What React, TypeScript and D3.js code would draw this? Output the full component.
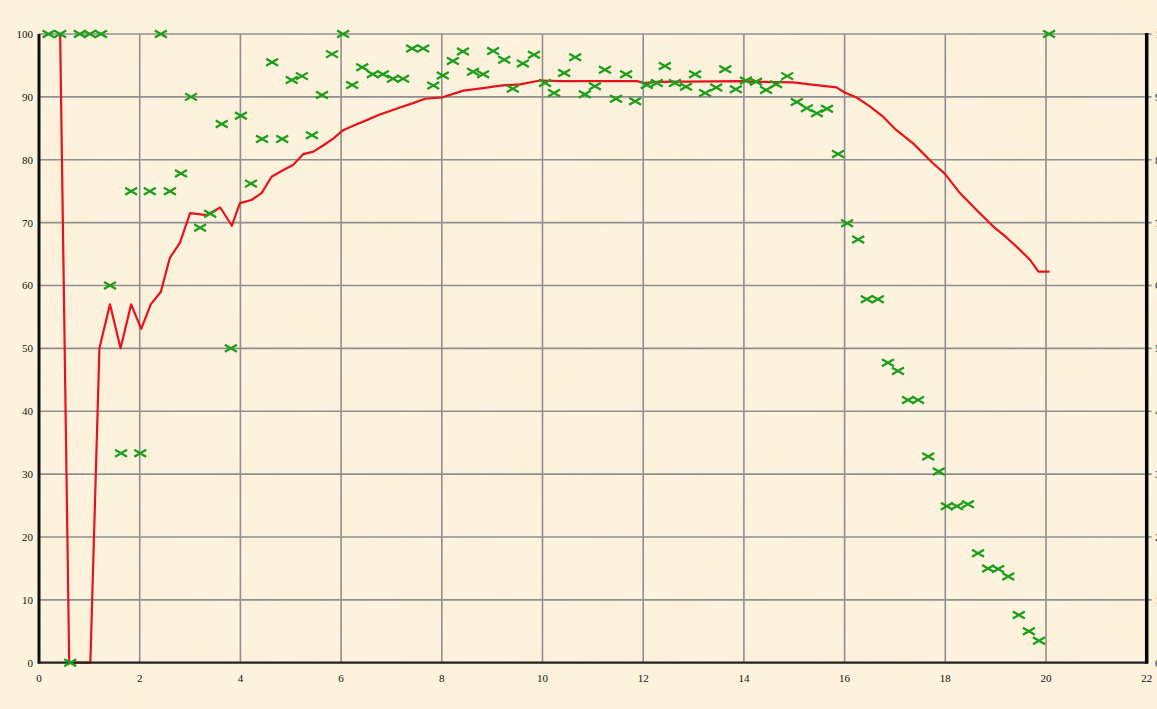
import React, { useRef, useEffect } from 'react';
import * as d3 from 'd3';

// measured points (green crosses)
const pointX = [
  0.19, 0.42, 0.62, 0.81, 1.01, 1.23, 1.41, 1.63, 1.83, 2.01,
  2.2, 2.42, 2.6, 2.82, 3.02, 3.2, 3.4, 3.63, 3.81, 4.01,
  4.21, 4.43, 4.63, 4.83, 5.02, 5.22, 5.42, 5.62, 5.82, 6.04,
  6.22, 6.42, 6.63, 6.83, 7.03, 7.23, 7.41, 7.63, 7.83, 8.02,
  8.22, 8.42, 8.62, 8.82, 9.02, 9.24, 9.41, 9.61, 9.83, 10.05,
  10.23, 10.43, 10.65, 10.84, 11.04, 11.24, 11.46, 11.66, 11.84, 12.07,
  12.27, 12.43, 12.63, 12.85, 13.03, 13.23, 13.45, 13.63, 13.84, 14.04,
  14.24, 14.44, 14.64, 14.86, 15.05, 15.25, 15.45, 15.65, 15.87, 16.05,
  16.27, 16.44, 16.66, 16.86, 17.06, 17.26, 17.46, 17.66, 17.87, 18.03,
  18.23, 18.45, 18.65, 18.85, 19.05, 19.25, 19.46, 19.66, 19.86, 20.06,
];
const pointY = [
  100, 100, 0, 100, 100, 100, 60, 33.3, 75, 33.3,
  75, 100, 75, 77.8, 90, 69.2, 71.4, 85.7, 50, 87,
  76.2, 83.3, 95.5, 83.3, 92.7, 93.3, 83.9, 90.3, 96.8, 100,
  91.9, 94.7, 93.6, 93.6, 92.9, 92.9, 97.7, 97.7, 91.8, 93.4,
  95.7, 97.2, 94.0, 93.6, 97.3, 95.9, 91.3, 95.3, 96.7, 92.2,
  90.6, 93.8, 96.3, 90.4, 91.7, 94.3, 89.7, 93.6, 89.3, 91.9,
  92.2, 94.9, 92.2, 91.6, 93.6, 90.6, 91.5, 94.4, 91.2, 92.6,
  92.4, 91.1, 92.0, 93.3, 89.2, 88.2, 87.4, 88.1, 80.9, 69.9,
  67.3, 57.8, 57.8, 47.7, 46.4, 41.8, 41.8, 32.8, 30.4, 24.9,
  24.9, 25.2, 17.4, 15.0, 14.9, 13.7, 7.6, 5.0, 3.5, 100,
];

// fitted curve (red)
const curveX = [
  0.42, 0.6, 1.02, 1.2, 1.41, 1.62, 1.83, 2.03, 2.22, 2.42,
  2.6, 2.8, 3.0, 3.33, 3.6, 3.83, 3.99, 4.22, 4.42, 4.62,
  4.79, 5.05, 5.25, 5.45, 5.65, 5.85, 6.04, 6.24, 6.51, 6.77,
  7.17, 7.43, 7.67, 8.0, 8.43, 8.82, 9.16, 9.55, 9.95, 10.4,
  11.88, 12.0, 12.27, 13.98, 14.32, 14.98, 15.31, 15.84, 16.0, 16.24,
  16.5, 16.77, 17.03, 17.36, 17.76, 17.99, 18.29, 18.62, 18.95, 19.22,
  19.45, 19.68, 19.85, 20.07,
];
const curveY = [
  100, 0, 0, 50, 57, 50, 57, 53.1, 57, 59,
  64.4, 66.8, 71.5, 71.2, 72.4, 69.5, 73.1, 73.6, 74.7, 77.3,
  78.1, 79.2, 80.9, 81.3, 82.3, 83.4, 84.7, 85.4, 86.3, 87.2,
  88.3, 89.0, 89.7, 89.9, 91.0, 91.4, 91.8, 92.0, 92.6, 92.5,
  92.5, 92.2, 92.4, 92.5, 92.4, 92.3, 92.0, 91.5, 90.7, 89.9,
  88.5, 86.8, 84.7, 82.6, 79.4, 77.8, 74.7, 72.0, 69.4, 67.6,
  65.9, 64.1, 62.2, 62.2,
];

const xTicks = [0, 2, 4, 6, 8, 10, 12, 14, 16, 18, 20, 22];
const yTicks = [0, 10, 20, 30, 40, 50, 60, 70, 80, 90, 100];

const W = 1157;
const H = 709;

const App: React.FC = () => {
  const svgRef = useRef<SVGSVGElement>(null);

  useEffect(() => {
    if (!svgRef.current) return;
    const svg = d3.select(svgRef.current);
    svg.selectAll('*').remove();

    const x = d3.scaleLinear().domain([0, 22]).range([39, 1146.7]);
    const y = d3.scaleLinear().domain([0, 100]).range([662.7, 34]);

    // parchment background
    const defs = svg.append('defs');
    const f = defs.append('filter').attr('id', 'paper')
      .attr('x', 0).attr('y', 0).attr('width', '100%').attr('height', '100%');
    f.append('feTurbulence')
      .attr('type', 'fractalNoise')
      .attr('baseFrequency', '0.012 0.02')
      .attr('numOctaves', 4)
      .attr('seed', 7);
    f.append('feColorMatrix')
      .attr('type', 'matrix')
      .attr('values', '0 0 0 0 0.93  0 0 0 0 0.84  0 0 0 0 0.62  0 0 0 1.6 -0.62');

    svg.append('rect').attr('width', W).attr('height', H).attr('fill', '#fdf3de');
    svg.append('rect').attr('width', W).attr('height', H)
      .attr('filter', 'url(#paper)').attr('opacity', 0.4);

    const font = "'Liberation Serif', 'DejaVu Serif', serif";

    // grid
    const grid = svg.append('g').attr('stroke', '#8f8f8f').attr('stroke-width', 1.6);
    grid.selectAll('.vx')
      .data(xTicks.filter(t => t > 0 && t < 22))
      .enter().append('line')
      .attr('x1', d => x(d)).attr('x2', d => x(d))
      .attr('y1', y(100)).attr('y2', y(0));
    grid.selectAll('.hy')
      .data(yTicks.filter(t => t > 0))
      .enter().append('line')
      .attr('x1', x(0)).attr('x2', x(22) + 5)
      .attr('y1', d => y(d)).attr('y2', d => y(d));

    // fitted curve
    const pts: [number, number][] = curveX.map((v, i) => [v, curveY[i]]);
    const line = d3.line<[number, number]>()
      .x(d => x(d[0]))
      .y(d => y(d[1]));
    svg.append('path')
      .attr('d', line(pts))
      .attr('fill', 'none')
      .attr('stroke', '#e8121a')
      .attr('stroke-width', 2.2)
      .attr('stroke-linejoin', 'round');

    // axes frame
    svg.append('line')
      .attr('x1', x(0)).attr('x2', x(0)).attr('y1', y(100)).attr('y2', y(0) + 1)
      .attr('stroke', '#111').attr('stroke-width', 3);
    svg.append('line')
      .attr('x1', x(0)).attr('x2', x(22)).attr('y1', y(0)).attr('y2', y(0))
      .attr('stroke', '#222').attr('stroke-width', 2.2);
    svg.append('line')
      .attr('x1', x(22)).attr('x2', x(22)).attr('y1', y(100) - 1).attr('y2', y(0) + 1)
      .attr('stroke', '#000').attr('stroke-width', 3.5);

    // crosses
    const pdata = pointX.map((v, i) => ({ x: v, y: pointY[i] }));
    svg.append('g')
      .selectAll('path')
      .data(pdata)
      .enter().append('path')
      .attr('transform', d => `translate(${x(d.x)},${y(d.y)})`)
      .attr('d', 'M-6,-3.5L6,3.5M-6,3.5L6,-3.5')
      .attr('fill', 'none')
      .attr('stroke', '#1c9e1c')
      .attr('stroke-width', 2.3);

    // tick labels
    svg.append('g')
      .selectAll('text')
      .data(xTicks)
      .enter().append('text')
      .attr('x', d => x(d))
      .attr('y', 682)
      .attr('text-anchor', 'middle')
      .attr('font-family', font)
      .attr('font-size', 11)
      .attr('fill', '#111')
      .text(d => String(d));

    svg.append('g')
      .selectAll('text')
      .data(yTicks)
      .enter().append('text')
      .attr('x', 33)
      .attr('y', d => y(d) + 4)
      .attr('text-anchor', 'end')
      .attr('font-family', font)
      .attr('font-size', 11)
      .attr('fill', '#111')
      .text(d => String(d));

    // right side labels (cut off at the edge, as in the original)
    svg.append('g')
      .selectAll('text')
      .data(yTicks)
      .enter().append('text')
      .attr('x', 1155)
      .attr('y', d => y(d) + 4)
      .attr('font-family', font)
      .attr('font-size', 11)
      .attr('fill', '#111')
      .text(d => String(d));
  }, []);

  return (
    <div style={{ position: 'fixed', left: 0, top: 0, width: W, height: H, overflow: 'hidden' }}>
      <svg ref={svgRef} width={W} height={H} style={{ display: 'block' }} />
    </div>
  );
};

export default App;
